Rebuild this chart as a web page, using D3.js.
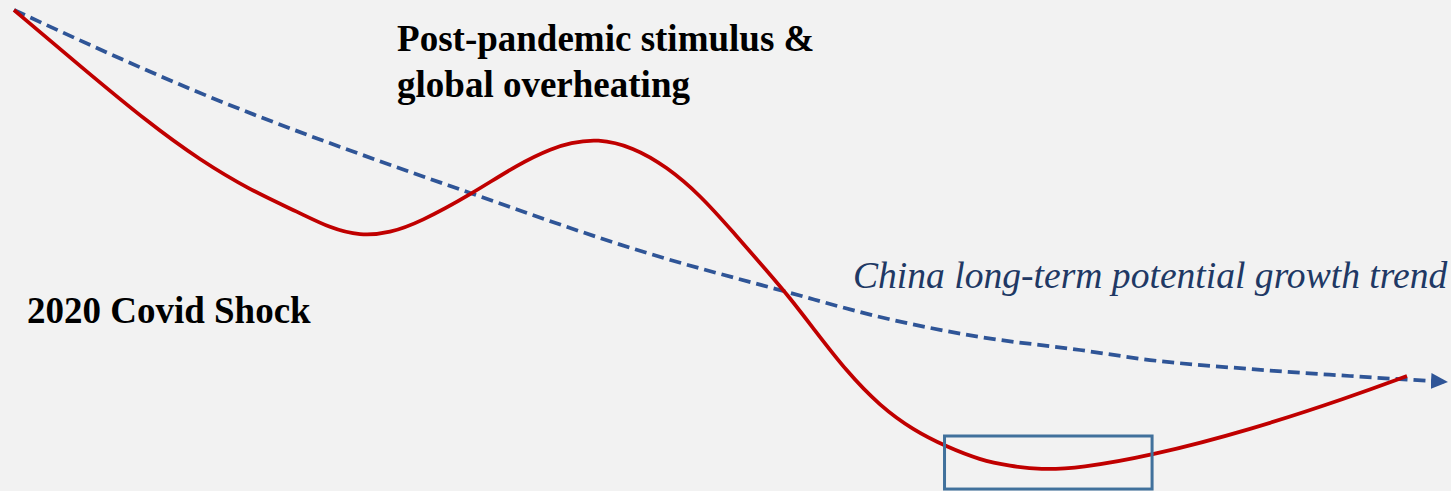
<!DOCTYPE html>
<html>
<head>
<meta charset="utf-8">
<script src="https://cdn.jsdelivr.net/npm/d3@7/dist/d3.min.js"></script>
<style>
  html, body { margin: 0; padding: 0; background: #f2f2f2; }
  svg { display: block; }
</style>
</head>
<body>
<svg id="chart" width="1451" height="491"></svg>
<script>
// Conceptual index: x = time progression (0..100), y = growth level (0..100)
const actualX = [0, 4.74, 9.76, 13.35, 16.94, 20.53, 22.68, 24.84, 26.99, 29.15, 32.74, 36.32, 38.69, 39.91, 41.85, 44.44, 46.88, 49.25, 51.62, 54.06, 55.71, 57.36, 59.80, 62.17, 64.54, 66.98, 69.35, 71.50, 73.66, 76.53, 81.55, 88.73, 95.91, 100];
const actualY = [100, 88.33, 76.25, 68.75, 62.50, 57.71, 54.58, 52.92, 53.54, 55.83, 61.46, 68.13, 71.25, 72.29, 73.23, 71.46, 67.29, 61.46, 53.75, 45.63, 40.00, 33.75, 24.58, 17.50, 12.50, 8.96, 6.25, 5.00, 4.20, 4.58, 7.08, 12.50, 19.38, 23.75];

const trendX = [0, 12.85, 32.74, 45.44, 55.49, 62.17, 69.35, 76.53, 81.55, 88.73, 95.91, 102.87];
const trendY = [100, 83.33, 61.88, 49.38, 41.25, 36.04, 31.88, 29.17, 27.08, 25.21, 23.75, 22.5];

// Highlight box (current trough), in the same index units
const boxX = [66.8, 81.7];
const boxY = [11.25, 0.2];

const labels = [
  { lines: ["Post-pandemic stimulus &", "global overheating"], x: 27.5, y: 91.5, style: "bold", size: 37 },
  { lines: ["2020 Covid Shock"], x: 0.93, y: 34.8, style: "bold", size: 37 },
  { lines: ["China long-term potential growth trend"], x: 60.23, y: 42.1, style: "italic", size: 37.6 }
];

const svg = d3.select("#chart");
const W = 1451, H = 491;
svg.append("rect").attr("width", W).attr("height", H).attr("fill", "#f2f2f2");

const x = d3.scaleLinear().domain([0, 100]).range([14, 1407]);
const y = d3.scaleLinear().domain([0, 100]).range([490, 10]);

// Arrow marker
const defs = svg.append("defs");
defs.append("marker")
  .attr("id", "arrow")
  .attr("markerUnits", "userSpaceOnUse")
  .attr("viewBox", "0 0 17 16")
  .attr("refX", 16).attr("refY", 8)
  .attr("markerWidth", 17).attr("markerHeight", 16)
  .attr("orient", "auto")
  .append("path")
  .attr("d", "M0,0 L17,8 L0,16 Z")
  .attr("fill", "#2f5597");

const trendLine = d3.line().x(d => x(d[0])).y(d => y(d[1])).curve(d3.curveMonotoneX);
const actualLine = d3.line().x(d => x(d[0])).y(d => y(d[1])).curve(d3.curveBasis);

const trend = trendX.map((v, i) => [v, trendY[i]]);
svg.append("path")
  .attr("d", trendLine(trend))
  .attr("fill", "none")
  .attr("stroke", "#2f5597")
  .attr("stroke-width", 3.75)
  .attr("stroke-dasharray", "12,6")
  .attr("marker-end", "url(#arrow)");

const actual = actualX.map((v, i) => [v, actualY[i]]);
svg.append("path")
  .attr("d", actualLine(actual))
  .attr("fill", "none")
  .attr("stroke", "#c00000")
  .attr("stroke-width", 3.75)
  .attr("stroke-linecap", "butt");

svg.append("rect")
  .attr("x", x(boxX[0])).attr("y", y(boxY[0]))
  .attr("width", x(boxX[1]) - x(boxX[0]))
  .attr("height", y(boxY[1]) - y(boxY[0]))
  .attr("fill", "none")
  .attr("stroke", "#41719c")
  .attr("stroke-width", 3);

labels.forEach(l => {
  const t = svg.append("text")
    .attr("x", x(l.x)).attr("y", y(l.y))
    .attr("font-family", "'Liberation Serif', 'Times New Roman', serif")
    .attr("font-size", l.size)
    .attr("font-weight", l.style === "bold" ? "bold" : "normal")
    .attr("font-style", l.style === "italic" ? "italic" : "normal")
    .attr("fill", l.style === "italic" ? "#203864" : "#000000");
  l.lines.forEach((s, i) => {
    t.append("tspan").attr("x", x(l.x)).attr("dy", i === 0 ? 0 : 46).text(s);
  });
});
</script>
</body>
</html>
